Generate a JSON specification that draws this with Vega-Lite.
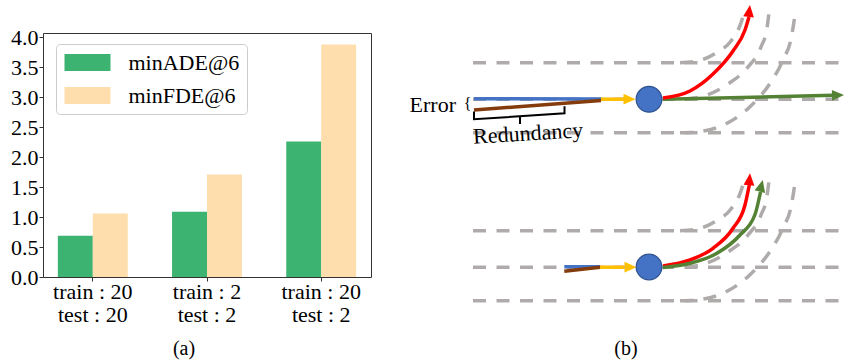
{
  "$schema": "https://vega.github.io/schema/vega-lite/v6.json",
  "padding": {"left": 10, "top": 1, "right": 0, "bottom": 0},
  "autosize": {"type": "pad"},
  "bounds": "flush",
  "spacing": 29,
  "resolve": {"scale": {"color": "independent"}, "legend": {"color": "independent"}},
  "config": {
    "font": "Liberation Serif",
    "view": {"stroke": null},
    "axis": {"labelFont": "Liberation Serif", "labelColor": "black"},
    "legend": {"labelFont": "Liberation Serif", "labelColor": "black"}
  },
  "datasets": {
    "bars": [
      {"setting": "train : 20|test : 20", "metric": "minADE@6", "value": 0.69},
      {"setting": "train : 20|test : 20", "metric": "minFDE@6", "value": 1.06},
      {"setting": "train : 2|test : 2", "metric": "minADE@6", "value": 1.09},
      {"setting": "train : 2|test : 2", "metric": "minFDE@6", "value": 1.71},
      {"setting": "train : 20|test : 2", "metric": "minADE@6", "value": 2.26},
      {"setting": "train : 20|test : 2", "metric": "minFDE@6", "value": 3.88}
    ],
    "lanes": [
      {"id": "t1", "i": 0, "x": 473, "y": 62.7}, {"id": "t1", "i": 1, "x": 848, "y": 62.7},
      {"id": "t2", "i": 0, "x": 473, "y": 99.3}, {"id": "t2", "i": 1, "x": 848, "y": 99.3},
      {"id": "t3", "i": 0, "x": 473, "y": 132.7}, {"id": "t3", "i": 1, "x": 848, "y": 132.7},
      {"id": "tA", "i": 0, "x": 680, "y": 62.7}, {"id": "tA", "i": 1, "x": 695, "y": 61.5}, {"id": "tA", "i": 2, "x": 716, "y": 53}, {"id": "tA", "i": 3, "x": 731, "y": 41}, {"id": "tA", "i": 4, "x": 739, "y": 28}, {"id": "tA", "i": 5, "x": 743, "y": 16}, {"id": "tA", "i": 6, "x": 744.5, "y": 8},
      {"id": "tB", "i": 0, "x": 685, "y": 99.3}, {"id": "tB", "i": 1, "x": 707, "y": 95}, {"id": "tB", "i": 2, "x": 728, "y": 84}, {"id": "tB", "i": 3, "x": 748, "y": 67}, {"id": "tB", "i": 4, "x": 761, "y": 47}, {"id": "tB", "i": 5, "x": 767, "y": 28}, {"id": "tB", "i": 6, "x": 769.5, "y": 8},
      {"id": "tC", "i": 0, "x": 680, "y": 132.7}, {"id": "tC", "i": 1, "x": 700, "y": 131.5}, {"id": "tC", "i": 2, "x": 727, "y": 123.3}, {"id": "tC", "i": 3, "x": 750, "y": 106.7}, {"id": "tC", "i": 4, "x": 770, "y": 83.3}, {"id": "tC", "i": 5, "x": 783, "y": 60}, {"id": "tC", "i": 6, "x": 791.5, "y": 36.7}, {"id": "tC", "i": 7, "x": 795.5, "y": 11},
      {"id": "b1", "i": 0, "x": 473, "y": 230.7}, {"id": "b1", "i": 1, "x": 848, "y": 230.7},
      {"id": "b2", "i": 0, "x": 473, "y": 267.3}, {"id": "b2", "i": 1, "x": 848, "y": 267.3},
      {"id": "b3", "i": 0, "x": 473, "y": 300.7}, {"id": "b3", "i": 1, "x": 848, "y": 300.7},
      {"id": "bA", "i": 0, "x": 680, "y": 230.7}, {"id": "bA", "i": 1, "x": 695, "y": 229.5}, {"id": "bA", "i": 2, "x": 716, "y": 221}, {"id": "bA", "i": 3, "x": 731, "y": 209}, {"id": "bA", "i": 4, "x": 739, "y": 196}, {"id": "bA", "i": 5, "x": 743, "y": 184}, {"id": "bA", "i": 6, "x": 744.5, "y": 176},
      {"id": "bB", "i": 0, "x": 685, "y": 267.3}, {"id": "bB", "i": 1, "x": 707, "y": 263}, {"id": "bB", "i": 2, "x": 728, "y": 252}, {"id": "bB", "i": 3, "x": 748, "y": 235}, {"id": "bB", "i": 4, "x": 761, "y": 215}, {"id": "bB", "i": 5, "x": 767, "y": 196}, {"id": "bB", "i": 6, "x": 769.5, "y": 176},
      {"id": "bC", "i": 0, "x": 680, "y": 300.7}, {"id": "bC", "i": 1, "x": 700, "y": 299.5}, {"id": "bC", "i": 2, "x": 727, "y": 291.3}, {"id": "bC", "i": 3, "x": 750, "y": 274.7}, {"id": "bC", "i": 4, "x": 770, "y": 251.3}, {"id": "bC", "i": 5, "x": 783, "y": 228}, {"id": "bC", "i": 6, "x": 791.5, "y": 204.7}, {"id": "bC", "i": 7, "x": 795.5, "y": 179}
    ],
    "traj": [
      {"id": "obs_t", "kind": "Observed", "i": 0, "x": 474, "y": 98.7}, {"id": "obs_t", "kind": "Observed", "i": 1, "x": 601, "y": 99},
      {"id": "red_t", "kind": "Redundant", "i": 0, "x": 474, "y": 110}, {"id": "red_t", "kind": "Redundant", "i": 1, "x": 601, "y": 100.5},
      {"id": "cur_t", "kind": "Current", "i": 0, "x": 601, "y": 99.2}, {"id": "cur_t", "kind": "Current", "i": 1, "x": 624, "y": 99.2},
      {"id": "gt_t", "kind": "Ground truth", "i": 0, "x": 663, "y": 99.3}, {"id": "gt_t", "kind": "Ground truth", "i": 1, "x": 833, "y": 95.3},
      {"id": "pr_t", "kind": "Prediction", "i": 0, "x": 663, "y": 98}, {"id": "pr_t", "kind": "Prediction", "i": 1, "x": 690, "y": 91}, {"id": "pr_t", "kind": "Prediction", "i": 2, "x": 713, "y": 74}, {"id": "pr_t", "kind": "Prediction", "i": 3, "x": 733, "y": 51}, {"id": "pr_t", "kind": "Prediction", "i": 4, "x": 745, "y": 30}, {"id": "pr_t", "kind": "Prediction", "i": 5, "x": 749, "y": 17},
      {"id": "obs_b", "kind": "Observed", "i": 0, "x": 564.3, "y": 266.7}, {"id": "obs_b", "kind": "Observed", "i": 1, "x": 600, "y": 266.7},
      {"id": "red_b", "kind": "Redundant", "i": 0, "x": 564.3, "y": 271.3}, {"id": "red_b", "kind": "Redundant", "i": 1, "x": 600, "y": 267.3},
      {"id": "cur_b", "kind": "Current", "i": 0, "x": 600, "y": 267.2}, {"id": "cur_b", "kind": "Current", "i": 1, "x": 624, "y": 267.2},
      {"id": "pr_b", "kind": "Prediction", "i": 0, "x": 663, "y": 266}, {"id": "pr_b", "kind": "Prediction", "i": 1, "x": 690, "y": 260}, {"id": "pr_b", "kind": "Prediction", "i": 2, "x": 713, "y": 248.3}, {"id": "pr_b", "kind": "Prediction", "i": 3, "x": 733, "y": 228.3}, {"id": "pr_b", "kind": "Prediction", "i": 4, "x": 745, "y": 205}, {"id": "pr_b", "kind": "Prediction", "i": 5, "x": 749.3, "y": 185},
      {"id": "gt_b", "kind": "Ground truth", "i": 0, "x": 663, "y": 267.5}, {"id": "gt_b", "kind": "Ground truth", "i": 1, "x": 690, "y": 263.3}, {"id": "gt_b", "kind": "Ground truth", "i": 2, "x": 717, "y": 253.3}, {"id": "gt_b", "kind": "Ground truth", "i": 3, "x": 740, "y": 235}, {"id": "gt_b", "kind": "Ground truth", "i": 4, "x": 755, "y": 214.5}, {"id": "gt_b", "kind": "Ground truth", "i": 5, "x": 760.5, "y": 192}
    ],
    "heads": [
      {"kind": "Prediction", "x": 749.3, "y": 11, "dir": 7},
      {"kind": "Ground truth", "x": 838, "y": 95.2, "dir": 88.6},
      {"kind": "Current", "x": 629.5, "y": 99.2, "dir": 90},
      {"kind": "Prediction", "x": 749.5, "y": 179.3, "dir": 5},
      {"kind": "Ground truth", "x": 761.3, "y": 185.8, "dir": 14},
      {"kind": "Current", "x": 630.5, "y": 267.2, "dir": 90}
    ],
    "agents": [
      {"x": 649, "y": 99.3},
      {"x": 649, "y": 267}
    ],
    "brackets": [
      {"id": "under", "i": 0, "x": 474, "y": 111.5}, {"id": "under", "i": 1, "x": 474, "y": 119.3}, {"id": "under", "i": 2, "x": 564.5, "y": 113.3}, {"id": "under", "i": 3, "x": 564.5, "y": 106.3},
      {"id": "tick", "i": 0, "x": 520, "y": 116.3}, {"id": "tick", "i": 1, "x": 520, "y": 124}
    ],
    "errorLabel": [{"text": "Error", "x": 456, "y": 111.5}],
    "brace": [{"text": "{", "x": 467.5, "y": 108.5}],
    "redLabel": [{"text": "Redundancy", "x": 528.5, "y": 140.5}],
    "caption": [{"text": "(b)", "x": 626, "y": 355}]
  },
  "hconcat": [
    {
      "width": 328,
      "height": 244,
      "view": {"stroke": "#333333", "strokeWidth": 1},
      "data": {"name": "bars"},
      "title": {"text": "(a)", "orient": "bottom", "anchor": "middle", "fontSize": 20, "fontWeight": "normal", "font": "Liberation Serif", "color": "black", "dx": -23, "offset": 14},
      "mark": {"type": "bar"},
      "encoding": {
        "x": {
          "field": "setting", "type": "nominal", "sort": null,
          "scale": {"paddingInner": 0.388, "paddingOuter": 0.13},
          "axis": {"title": null, "labelAngle": 0, "labelExpr": "split(datum.label, '|')", "labelFont": "Liberation Serif", "labelFontSize": 22, "labelLineHeight": 23, "tickColor": "#333333", "tickSize": 4, "domain": false, "labelPadding": 0}
        },
        "xOffset": {"field": "metric", "type": "nominal", "sort": ["minADE@6", "minFDE@6"], "scale": {"paddingInner": 0, "paddingOuter": 0}},
        "y": {
          "field": "value", "type": "quantitative",
          "scale": {"domain": [0, 4.07], "nice": false},
          "axis": {"title": null, "values": [0, 0.5, 1, 1.5, 2, 2.5, 3, 3.5, 4], "format": ".1f", "grid": false, "labelFont": "Liberation Serif", "labelFontSize": 22, "tickColor": "#333333", "tickSize": 4, "domain": false, "labelPadding": 1}
        },
        "color": {
          "field": "metric", "type": "nominal",
          "scale": {"domain": ["minADE@6", "minFDE@6"], "range": ["#3CB371", "#FFDEAD"]},
          "legend": {
            "title": null, "orient": "none", "legendX": 13, "legendY": 11,
            "symbolType": "M-0.87,-0.74H3.13V0.74H-0.87Z", "symbolSize": 529, "symbolStrokeWidth": 0, "symbolOpacity": 1,
            "labelFontSize": 22, "labelOffset": 42.5, "rowPadding": 10, "padding": 7,
            "strokeColor": "#cccccc", "fillColor": "rgba(255,255,255,0.8)", "cornerRadius": 4
          }
        }
      }
    },
    {
      "width": 448,
      "height": 244,
      "view": {"stroke": null},
      "encoding": {
        "x": {"field": "x", "type": "quantitative", "scale": {"domain": [400, 848], "nice": false, "zero": false}, "axis": null},
        "y": {"field": "y", "type": "quantitative", "scale": {"domain": [33, 277], "nice": false, "zero": false, "reverse": true}, "axis": null}
      },
      "layer": [
        {
          "data": {"name": "lanes"},
          "mark": {"type": "line", "color": "#AFABAB", "strokeWidth": 3.5, "strokeDash": [13, 10.5], "interpolate": "monotone"},
          "encoding": {"detail": {"field": "id"}, "order": {"field": "i", "type": "quantitative"}}
        },
        {
          "data": {"name": "traj"},
          "mark": {"type": "line", "strokeWidth": 3.5, "interpolate": "monotone"},
          "encoding": {
            "detail": {"field": "id"},
            "order": {"field": "i", "type": "quantitative"},
            "color": {"field": "kind", "type": "nominal", "scale": {"domain": ["Observed", "Redundant", "Current", "Ground truth", "Prediction"], "range": ["#4472C4", "#843C0C", "#FFC000", "#548235", "#FF0000"]}, "legend": null}
          }
        },
        {
          "data": {"name": "brackets"},
          "mark": {"type": "line", "color": "black", "strokeWidth": 2},
          "encoding": {"detail": {"field": "id"}, "order": {"field": "i", "type": "quantitative"}}
        },
        {
          "data": {"name": "heads"},
          "mark": {"type": "point", "filled": true, "opacity": 1, "shape": "M0,-1L-0.9,1L0.9,1Z", "size": 144, "strokeWidth": 0},
          "encoding": {
            "color": {"field": "kind", "type": "nominal", "legend": null},
            "angle": {"field": "dir", "type": "quantitative", "scale": null}
          }
        },
        {
          "data": {"name": "agents"},
          "mark": {"type": "point", "shape": "circle", "filled": true, "fill": "#4472C4", "stroke": "#2F528F", "strokeWidth": 1.2, "size": 660, "opacity": 1}
        },
        {
          "data": {"name": "errorLabel"},
          "mark": {"type": "text", "align": "right", "baseline": "alphabetic", "fontSize": 22, "font": "Liberation Serif", "color": "black"},
          "encoding": {"text": {"field": "text"}}
        },
        {
          "data": {"name": "brace"},
          "mark": {"type": "text", "align": "center", "baseline": "alphabetic", "fontSize": 16, "font": "Liberation Serif", "color": "black"},
          "encoding": {"text": {"field": "text"}}
        },
        {
          "data": {"name": "redLabel"},
          "mark": {"type": "text", "align": "center", "baseline": "alphabetic", "fontSize": 22, "font": "Liberation Serif", "color": "black", "angle": -3.5},
          "encoding": {"text": {"field": "text"}}
        },
        {
          "data": {"name": "caption"},
          "mark": {"type": "text", "align": "center", "baseline": "alphabetic", "fontSize": 20, "font": "Liberation Serif", "color": "black"},
          "encoding": {"text": {"field": "text"}}
        }
      ]
    }
  ]
}
